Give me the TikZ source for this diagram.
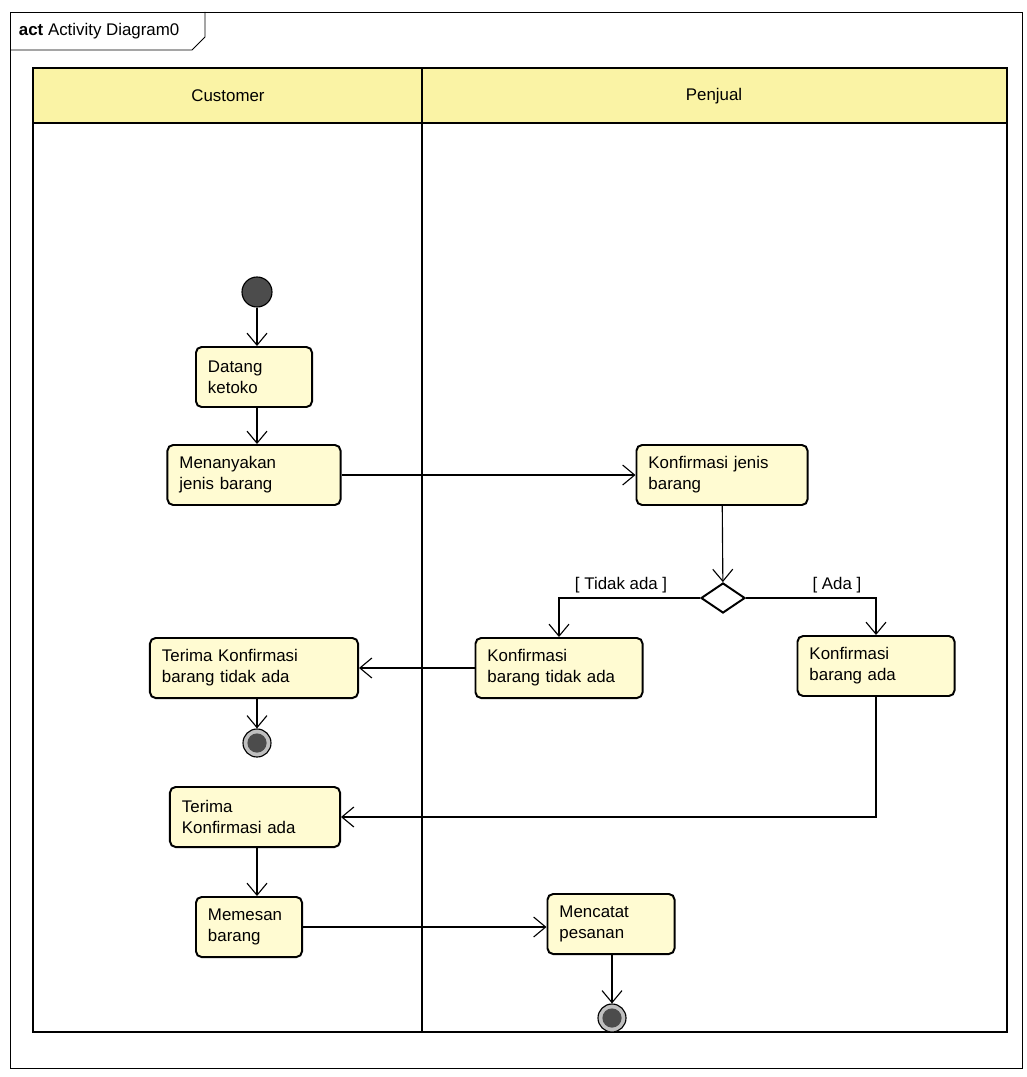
\documentclass[tikz,border=0pt]{standalone}
\usepackage{fontspec}
\setmainfont{Liberation Sans}
\usepackage{tikz}
\usetikzlibrary{arrows.meta,shapes.geometric}

\definecolor{lanehead}{RGB}{250,243,165}
\definecolor{actfill}{RGB}{255,251,210}

\begin{document}
\begin{tikzpicture}[x=0.025cm,y=-0.025cm,>={Straight Barb[length=3mm,width=5mm]},
        every node/.style={font=\fontsize{12}{15}\selectfont},
        action/.style={draw,line width=1.4pt,rounded corners=4pt,fill=actfill,
          align=left,inner xsep=0.3cm,minimum height=1.5cm},
        flow/.style={->,line width=0.8pt},
        startnode/.style={circle,draw,line width=0.8pt,fill=black!70,
          minimum size=0.75cm,inner sep=0},
        endnode/.style={circle,draw,line width=0.8pt,fill=black!25,
          minimum size=0.7cm,inner sep=0,
          path picture={\fill[black!70] (path picture bounding box.center) circle (0.24cm);}}]

  \useasboundingbox (0,0) rectangle (1026,1077);

  % frame
  \draw[line width=0.7pt] (10,12) rectangle (1022,1068);
  \draw[line width=0.7pt] (10,50) -- (192,50) -- (205,37) -- (205,12);
  \node[anchor=west] (title) at (14,31) {\textbf{act} Activity Diagram0};

  % lanes
  \fill[lanehead] (33,68) rectangle (1007,123);
  \draw[line width=1.8pt] (33,68) rectangle (1007,1032);
  \draw[line width=1.8pt] (33,123) -- (1007,123);
  \draw[line width=1.8pt] (422,68) -- (422,1032);
  \node (customer) at (228,96) {Customer};
  \node (penjual) at (714,96) {Penjual};

  % actions
  \node[startnode] (start) at (257,292) {};
  \node[action,text width=2.3cm] (datang) at (254,377) {Datang\\ketoko};
  \node[action,text width=3.725cm] (tanya) at (254,475) {Menanyakan\\jenis barang};
  \node[action,text width=3.675cm] (konfjenis) at (722,475) {Konfirmasi jenis\\barang};
  \node[diamond,draw,line width=1.4pt,minimum width=1.1cm,minimum height=0.75cm,
        inner sep=0] (cek) at (723,598) {};
  \node[action,text width=3.575cm] (konftidak) at (559,668) {Konfirmasi\\barang tidak ada};
  \node[action,text width=3.325cm] (konfada) at (876,666) {Konfirmasi\\barang ada};
  \node[action,text width=4.6cm] (terimatidak) at (254,668) {Terima Konfirmasi\\barang tidak ada};
  \node[endnode] (selesai1) at (257,743) {};
  \node[action,text width=3.65cm] (terimaada) at (255,817) {Terima\\Konfirmasi ada};
  \node[action,text width=2.05cm] (pesan) at (249,927) {Memesan\\barang};
  \node[action,text width=2.575cm] (catat) at (611,924) {Mencatat\\pesanan};
  \node[endnode] (selesai2) at (612,1018) {};

  % flows
  \draw[flow] (start) -- (start |- datang.north);
  \draw[flow] (start |- datang.south) -- (start |- tanya.north);
  \draw[flow] (tanya.east) -- (tanya.east -| konfjenis.west);
  \draw[flow] (konfjenis) -- (cek);
  \draw[flow] (cek.west) -| node[above,pos=0.28] {[ Tidak ada ]} (konftidak.north);
  \draw[flow] (cek.east) -| node[above,pos=0.35] {[ Ada ]} (konfada.north);
  \draw[flow] (konftidak) -- (terimatidak);
  \draw[flow] (selesai1 |- terimatidak.south) -- (selesai1);
  \draw[flow] (konfada.south) |- (terimaada.east);
  \draw[flow] (terimaada.south -| start) -- (start |- pesan.north);
  \draw[flow] (pesan.east) -- (pesan.east -| catat.west);
  \draw[flow] (selesai2 |- catat.south) -- (selesai2);

\end{tikzpicture}
\end{document}
